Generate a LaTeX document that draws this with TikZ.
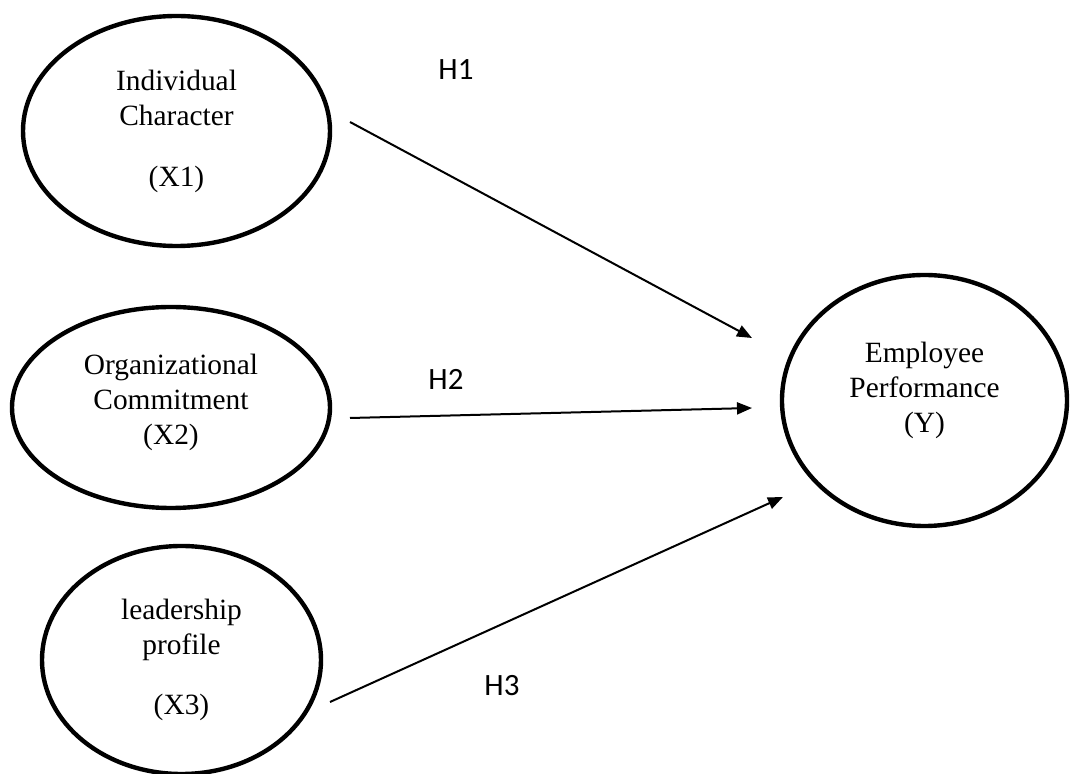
\documentclass[tikz,border=0pt]{standalone}
\usepackage{fontspec}
\setmainfont{Liberation Serif}
\newfontfamily\hfont{Carlito}
\usetikzlibrary{shapes.geometric,arrows.meta}
\begin{document}
\begin{tikzpicture}[x=0.5pt, y=-0.5pt,
    factor/.style={draw, ellipse, line width=2.2pt, inner sep=0pt},
    ftext/.style={align=center, font=\fontsize{14.7}{17.5}\selectfont},
    hyp/.style={font=\hfont\fontsize{15.5}{17}\selectfont},
    link/.style={-{Triangle[length=7.5pt,width=6pt]}, line width=1pt}]
  \useasboundingbox (0,0) rectangle (1072,774);

  % variables
  \node[factor, minimum width=153.5pt, minimum height=115pt] (X1) at (176.5,131) {};
  \node[factor, minimum width=159pt, minimum height=100.5pt] (X2) at (171,407.5) {};
  \node[factor, minimum width=139.5pt, minimum height=114pt] (X3) at (181.5,660) {};
  \node[factor, minimum width=142.5pt, minimum height=125.5pt] (Y) at (924.5,400.5) {};

  \node[ftext] (X1t) at (X1.center) {Individual\\Character\\[13pt](X1)};
  \node[ftext, yshift=2.5pt] (X2t) at (X2.center) {Organizational\\Commitment\\(X2)};
  \node[ftext] (X3t) at (X3.center) {leadership\\profile\\[12.5pt](X3)};
  \node[ftext, yshift=5pt] (Yt) at (Y.center) {Employee\\Performance\\(Y)};

  % hypotheses
  \coordinate (s1) at (350,122);
  \coordinate (e1) at (752,338);
  \coordinate (s2) at (350,418);
  \coordinate (e2) at (752,408);
  \coordinate (s3) at (330,702);
  \coordinate (e3) at (783,497);

  \draw[link] (s1) -- (e1);
  \draw[link] (s2) -- (e2);
  \draw[link] (s3) -- (e3);

  \node[hyp] (h1) at (456,70) {H1};
  \node[hyp] (h2) at (446,379) {H2};
  \node[hyp] (h3) at (502,686) {H3};
\end{tikzpicture}
\end{document}
